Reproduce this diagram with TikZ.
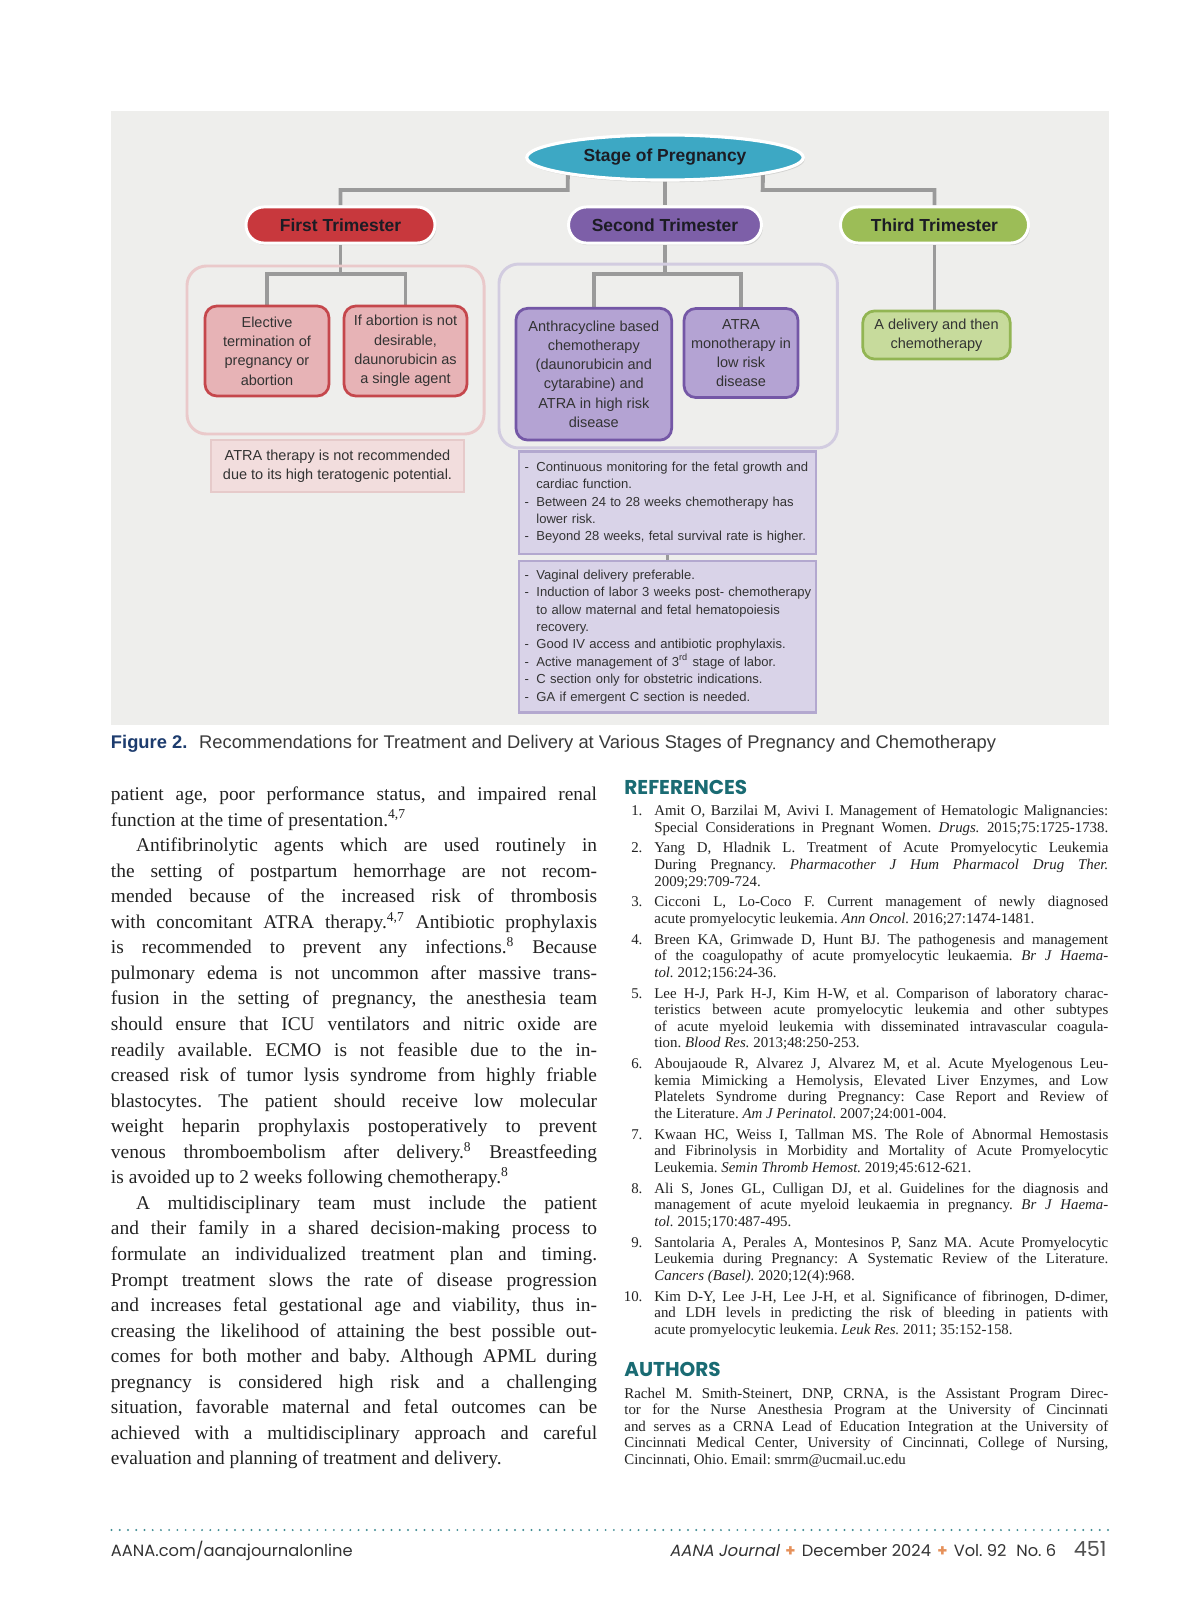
\documentclass[tikz,border=0pt]{standalone}
\usepackage{fontspec}
\setmainfont{Liberation Serif}
\newfontfamily\dg{Liberation Sans}
\newfontfamily\hd{Poppins}
\newfontfamily\ftsl[FakeSlant=0.2]{Poppins}
\usetikzlibrary{shapes.geometric,shadows}
\frenchspacing
\definecolor{figbg}{HTML}{EEEEEC}
\definecolor{conngray}{HTML}{9A9A9A}
\definecolor{ellfill}{HTML}{3DA8C4}
\definecolor{redfill}{HTML}{C8383D}
\definecolor{purfill}{HTML}{7D5FA8}
\definecolor{grnfill}{HTML}{9CBD57}
\definecolor{pilltext}{HTML}{1C1C24}
\definecolor{pinkfill}{HTML}{E7B3B6}
\definecolor{pinkdraw}{HTML}{C5474C}
\definecolor{lavfill}{HTML}{B4A3D3}
\definecolor{lavdraw}{HTML}{7457A6}
\definecolor{lgfill}{HTML}{C7DB9C}
\definecolor{lgdraw}{HTML}{92B553}
\definecolor{gonedraw}{HTML}{EAC9CA}
\definecolor{gtwodraw}{HTML}{D2CCE0}
\definecolor{atrafill}{HTML}{F2DDDD}
\definecolor{atradraw}{HTML}{E6CACA}
\definecolor{bfill}{HTML}{D9D3E8}
\definecolor{bdraw}{HTML}{B3A8CF}
\definecolor{boxtext}{HTML}{333333}
\definecolor{capnavy}{HTML}{1D3C6E}
\definecolor{captext}{HTML}{3A3A3A}
\definecolor{headteal}{HTML}{1A6B73}
\definecolor{dotteal}{HTML}{3F8C92}
\definecolor{footorange}{HTML}{E6915A}
\definecolor{bodytext}{HTML}{222222}
\definecolor{foottext}{HTML}{333333}
\newcommand{\jl}[1]{\makebox[247.9pt][s]{#1}}
\newcommand{\rl}[1]{\makebox[231.5pt][s]{#1}}
\newcommand{\al}[1]{\makebox[246.8pt][s]{#1}}
\newcommand{\rn}[1]{\llap{#1\hspace{6.1pt}}}
\newcommand{\bl}[1]{\mbox{\makebox[6pt][l]{-}#1}}
\newcommand{\cl}[1]{\mbox{\hspace*{6pt}#1}}
\newcommand{\fplus}{\hspace{3.2pt}{\color{footorange}\bfseries +}\hspace{3.2pt}}
\pgfdeclarelayer{bgl}
\pgfdeclarelayer{cnl}
\pgfsetlayers{bgl,cnl,main}
\tikzset{
  conn/.style={draw=conngray, line width=2pt},
  pill/.style={rounded corners=9.2pt, draw=white, line width=1.5pt, minimum height=18.4pt,
    inner sep=0pt, text=pilltext, font=\dg\bfseries\fontsize{8.9}{10}\selectfont,
    drop shadow={shadow xshift=0.7pt, shadow yshift=-1.1pt, opacity=0.25}},
  cbox/.style={rounded corners=6pt, line width=1.4pt, align=center, inner sep=0pt,
    text=boxtext, font=\dg\fontsize{7.4}{9.8}\selectfont},
  grp/.style={rounded corners=10pt, line width=1.5pt, inner sep=0pt},
  lbox/.style={line width=1.4pt, fill=bfill, draw=bdraw, inner xsep=2.9pt, inner ysep=0pt,
    text width=145.7pt, align=left, text=boxtext, font=\dg\fontsize{6.65}{8.87}\selectfont},
  bodytxt/.style={inner sep=0pt, align=left, text=bodytext, font=\fontsize{9.9}{13.035}\selectfont},
  reftxt/.style={inner sep=0pt, align=left, text=bodytext, font=\fontsize{7.6}{8.466}\selectfont},
  headtxt/.style={inner sep=0pt, text=headteal, font=\hd\bfseries\fontsize{10.2}{12}\selectfont},
  foottxt/.style={inner sep=0pt, text=foottext, font=\hd\fontsize{8.3}{10}\selectfont},
}
\begin{document}
\begin{tikzpicture}[x=0.51pt,y=-0.51pt]
\useasboundingbox (0,0) rectangle (1200,1606);
\begin{pgfonlayer}{bgl}
  \fill[white] (0,0) rectangle (1200,1606);
  \fill[figbg] (110.6,110.6) rectangle (1109,725);
\end{pgfonlayer}

% ---------- diagram ----------
\node[ellipse, fill=ellfill, draw=white, line width=1.6pt, minimum width=141pt, minimum height=23pt,
  inner sep=0pt, text=pilltext, font=\dg\bfseries\fontsize{8.9}{10}\selectfont,
  drop shadow={shadow xshift=0.7pt, shadow yshift=-1.1pt, opacity=0.25}]
  (ell) at (665,157.5) {Stage of Pregnancy};

\node[pill, fill=redfill, minimum width=96.4pt] (p1) at (340.5,225) {First Trimester};
\node[pill, fill=purfill, minimum width=98.4pt] (p2) at (665,225) {Second Trimester};
\node[pill, fill=grnfill, minimum width=95.9pt] (p3) at (934.5,225) {Third Trimester};

\node[grp, draw=gonedraw, minimum width=151.5pt, minimum height=85.7pt] (g1) at (335.5,350) {};
\node[grp, draw=gtwodraw, minimum width=172.6pt, minimum height=93.8pt] (g2) at (668.2,356) {};

\node[cbox, fill=pinkfill, draw=pinkdraw, minimum width=63.2pt, minimum height=45.9pt] (e1) at (267,351)
  {Elective\\termination of\\pregnancy or\\abortion};
\node[cbox, fill=pinkfill, draw=pinkdraw, minimum width=62.7pt, minimum height=45.9pt] (e2) at (405.5,351)
  {If abortion is not\\desirable,\\daunorubicin as\\a single agent};
\node[cbox, fill=lavfill, draw=lavdraw, minimum width=79.4pt, minimum height=67.2pt] (s1) at (593.8,374.2)
  {Anthracycline based\\chemotherapy\\(daunorubicin and\\cytarabine) and\\ATRA in high risk\\disease};
\node[cbox, fill=lavfill, draw=lavdraw, minimum width=58.1pt, minimum height=45.4pt] (s2) at (741,353)
  {ATRA\\monotherapy in\\low risk\\disease};
\node[cbox, fill=lgfill, draw=lgdraw, minimum width=75.2pt, minimum height=24.5pt] (t1) at (936.5,335)
  {A delivery and then\\chemotherapy};

\node[fill=atrafill, draw=atradraw, line width=1.2pt, minimum width=129pt, minimum height=26.5pt,
  inner sep=0pt, align=center, text=boxtext, font=\dg\fontsize{7.4}{9.7}\selectfont] (n1) at (337.5,466)
  {ATRA therapy is not recommended\\due to its high teratogenic potential.};

\node[lbox, minimum height=52.3pt] (ba) at (667.5,502.75)
  {\bl{Continuous monitoring for the fetal growth and}\\
   \cl{cardiac function.}\\
   \bl{Between 24 to 28 weeks chemotherapy has}\\
   \cl{lower risk.}\\
   \bl{Beyond 28 weeks, fetal survival rate is higher.}};
\node[lbox, minimum height=77.3pt] (bb) at (667.5,636.8)
  {\bl{Vaginal delivery preferable.}\\
   \bl{Induction of labor 3 weeks post- chemotherapy}\\
   \cl{to allow maternal and fetal hematopoiesis}\\
   \cl{recovery.}\\
   \bl{Good IV access and antibiotic prophylaxis.}\\
   \bl{Active management of 3\textsuperscript{rd} stage of labor.}\\
   \bl{C section only for obstetric indications.}\\
   \bl{GA if emergent C section is needed.}};

\coordinate (jl) at (567.7,190);
\coordinate (jr) at (762.7,190);
\coordinate (k1) at (340.5,274.4);
\coordinate (k2) at (665,274.4);
\begin{pgfonlayer}{cnl}
  \draw[conn] ([xshift=-49.5pt]ell.center) -- (jl) -| (p1.north);
  \draw[conn] (ell.center) -- (p2.north);
  \draw[conn] ([xshift=50pt]ell.center) -- (jr) -| (p3.north);
  \draw[conn] (p1.south) -- (k1) -| (e1.north);
  \draw[conn] (k1) -| (e2.north);
  \draw[conn] (p2.south) -- (k2) -| (s1.north);
  \draw[conn] (k2) -| (s2.north);
  \draw[conn] (p3.south) -- (p3.south |- t1.north);
  \draw[conn] (ba.south) -- (bb.north);
\end{pgfonlayer}

% ---------- caption ----------
\node[anchor=base west, inner sep=0pt, text=captext, font=\dg\fontsize{9.35}{11}\selectfont] (cap) at (110.6,748.5)
  {{\color{capnavy}\bfseries Figure 2.}\hspace{6pt}Recommendations for Treatment and Delivery at Various Stages of Pregnancy and Chemotherapy};

% ---------- body text ----------
\node[bodytxt, anchor=north west] (body) at (110.6,782.4) {%
\rule{0pt}{9pt}\jl{patient age, poor performance status, and impaired renal}\\
function at the time of presentation.\textsuperscript{4,7}\\
\jl{\hspace*{12.8pt}Antifibrinolytic agents which are used routinely in}\\
\jl{the setting of postpartum hemorrhage are not recom-}\\
\jl{mended because of the increased risk of thrombosis}\\
\jl{with concomitant ATRA therapy.\textsuperscript{4,7} Antibiotic prophylaxis}\\
\jl{is recommended to prevent any infections.\textsuperscript{8} Because}\\
\jl{pulmonary edema is not uncommon after massive trans-}\\
\jl{fusion in the setting of pregnancy, the anesthesia team}\\
\jl{should ensure that ICU ventilators and nitric oxide are}\\
\jl{readily available. ECMO is not feasible due to the in-}\\
\jl{creased risk of tumor lysis syndrome from highly friable}\\
\jl{blastocytes. The patient should receive low molecular}\\
\jl{weight heparin prophylaxis postoperatively to prevent}\\
\jl{venous thromboembolism after delivery.\textsuperscript{8} Breastfeeding}\\
is avoided up to 2 weeks following chemotherapy.\textsuperscript{8}\\
\jl{\hspace*{12.8pt}A multidisciplinary team must include the patient}\\
\jl{and their family in a shared decision-making process to}\\
\jl{formulate an individualized treatment plan and timing.}\\
\jl{Prompt treatment slows the rate of disease progression}\\
\jl{and increases fetal gestational age and viability, thus in-}\\
\jl{creasing the likelihood of attaining the best possible out-}\\
\jl{comes for both mother and baby. Although APML during}\\
\jl{pregnancy is considered high risk and a challenging}\\
\jl{situation, favorable maternal and fetal outcomes can be}\\
\jl{achieved with a multidisciplinary approach and careful}\\
evaluation and planning of treatment and delivery.};

% ---------- references ----------
\node[headtxt, anchor=base west] (refhead) at (624,794) {REFERENCES};
\node[reftxt, anchor=north west] (refs) at (654,802.25) {%
\rule{0pt}{6.5pt}\rn{1.}\rl{Amit O, Barzilai M, Avivi I. Management of Hematologic Malignancies:}\\
\rl{Special Considerations in Pregnant Women. \textit{Drugs.} 2015;75:1725-1738.}\\[2.14pt]
\rn{2.}\rl{Yang D, Hladnik L. Treatment of Acute Promyelocytic Leukemia}\\
\rl{During Pregnancy. \textit{Pharmacother J Hum Pharmacol Drug Ther.}}\\
2009;29:709-724.\\[2.14pt]
\rn{3.}\rl{Cicconi L, Lo-Coco F. Current management of newly diagnosed}\\
acute promyelocytic leukemia. \textit{Ann Oncol.} 2016;27:1474-1481.\\[2.14pt]
\rn{4.}\rl{Breen KA, Grimwade D, Hunt BJ. The pathogenesis and management}\\
\rl{of the coagulopathy of acute promyelocytic leukaemia. \textit{Br J Haema-}}\\
\textit{tol.} 2012;156:24-36.\\[2.14pt]
\rn{5.}\rl{Lee H-J, Park H-J, Kim H-W, et al. Comparison of laboratory charac-}\\
\rl{teristics between acute promyelocytic leukemia and other subtypes}\\
\rl{of acute myeloid leukemia with disseminated intravascular coagula-}\\
tion. \textit{Blood Res.} 2013;48:250-253.\\[2.14pt]
\rn{6.}\rl{Aboujaoude R, Alvarez J, Alvarez M, et al. Acute Myelogenous Leu-}\\
\rl{kemia Mimicking a Hemolysis, Elevated Liver Enzymes, and Low}\\
\rl{Platelets Syndrome during Pregnancy: Case Report and Review of}\\
the Literature. \textit{Am J Perinatol.} 2007;24:001-004.\\[2.14pt]
\rn{7.}\rl{Kwaan HC, Weiss I, Tallman MS. The Role of Abnormal Hemostasis}\\
\rl{and Fibrinolysis in Morbidity and Mortality of Acute Promyelocytic}\\
Leukemia. \textit{Semin Thromb Hemost.} 2019;45:612-621.\\[2.14pt]
\rn{8.}\rl{Ali S, Jones GL, Culligan DJ, et al. Guidelines for the diagnosis and}\\
\rl{management of acute myeloid leukaemia in pregnancy. \textit{Br J Haema-}}\\
\textit{tol.} 2015;170:487-495.\\[2.14pt]
\rn{9.}\rl{Santolaria A, Perales A, Montesinos P, Sanz MA. Acute Promyelocytic}\\
\rl{Leukemia during Pregnancy: A Systematic Review of the Literature.}\\
\textit{Cancers (Basel).} 2020;12(4):968.\\[2.14pt]
\rn{10.}\rl{Kim D-Y, Lee J-H, Lee J-H, et al. Significance of fibrinogen, D-dimer,}\\
\rl{and LDH levels in predicting the risk of bleeding in patients with}\\
acute promyelocytic leukemia. \textit{Leuk Res.} 2011; 35:152-158.};

% ---------- authors ----------
\node[headtxt, anchor=base west] (authhead) at (624,1376.7) {AUTHORS};
\node[reftxt, anchor=north west] (auth) at (624,1384.95) {%
\rule{0pt}{6.5pt}\al{Rachel M. Smith-Steinert, DNP, CRNA, is the Assistant Program Direc-}\\
\al{tor for the Nurse Anesthesia Program at the University of Cincinnati}\\
\al{and serves as a CRNA Lead of Education Integration at the University of}\\
\al{Cincinnati Medical Center, University of Cincinnati, College of Nursing,}\\
Cincinnati, Ohio. Email: smrm@ucmail.uc.edu};

% ---------- footer ----------
\draw[dotteal, line width=1.1pt, line cap=round, dash pattern=on 0pt off 4.2pt] (111.5,1530) -- (1108,1530);
\node[foottxt, anchor=base west] (fl) at (110.6,1556) {AANA.com/aanajournalonline};
\node[foottxt, anchor=base east] (fr) at (1056.7,1556)
  {{\ftsl AANA Journal}\fplus December 2024\fplus Vol.~92\hspace{5pt}No.~6};
\node[inner sep=0pt, text=foottext!85, font=\hd\fontsize{10.6}{12}\selectfont, anchor=base east] (pg) at (1107,1556) {451};
\end{tikzpicture}
\end{document}
